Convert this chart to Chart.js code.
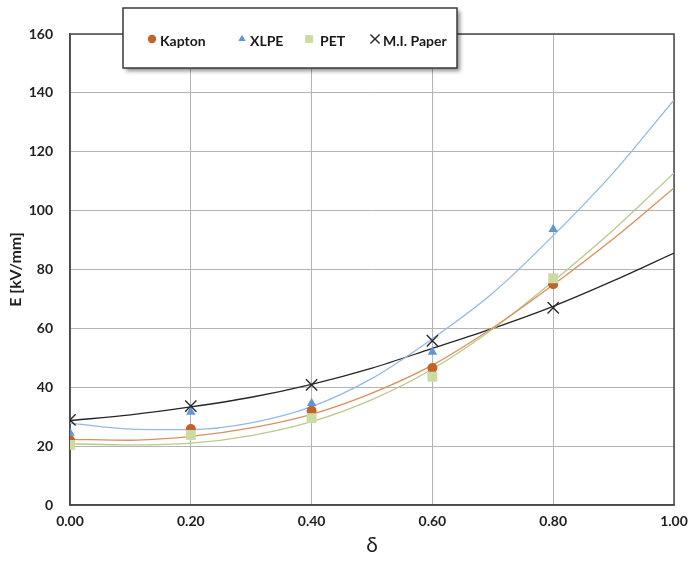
<!DOCTYPE html>
<html>
<head>
<meta charset="utf-8">
<script src="https://cdn.jsdelivr.net/npm/chart.js@4.4.1/dist/chart.umd.min.js"></script>
<style>
    html, body { margin: 0; padding: 0; background: #fff; }
    #wrap { position: relative; width: 689px; height: 564px; }
</style>
</head>
<body>
<div id="wrap"><canvas id="field-chart"></canvas></div>
<script>
// measured points (delta vs breakdown field)
const pointX = [0, 0.2, 0.4, 0.6, 0.8];
const kaptonPts = [22.0, 25.8, 32.0, 46.5, 75.0];
const xlpePts = [24.5, 31.6, 34.6, 52.0, 93.7];
const petPts = [20.4, 23.8, 29.5, 43.6, 77.0];
const paperPts = [28.9, 33.6, 40.8, 55.8, 67.0];

// trend lines, read every 0.1
const curveX = [0, 0.1, 0.2, 0.3, 0.4, 0.5, 0.6, 0.7, 0.8, 0.9, 1.0];
const kaptonFit = [22.3, 22.0, 23.3, 26.2, 30.8, 38.0, 47.5, 60.2, 74.8, 90.5, 107.7];
const xlpeFit = [27.8, 25.8, 25.6, 27.9, 33.4, 43.0, 56.5, 72.0, 91.5, 113.0, 137.6];
const petFit = [20.8, 20.4, 21.0, 23.6, 28.3, 35.8, 46.2, 59.8, 76.0, 93.5, 112.8];
const paperFit = [28.7, 30.6, 33.3, 36.6, 41.0, 46.5, 53.2, 60.0, 67.5, 76.2, 85.6];

const seriesNames = ["Kapton", "XLPE", "PET", "M.I. Paper"];

const toXY = (xs, ys) => xs.map((x, i) => ({ x: x, y: ys[i] }));

const FONT = "Lato, 'Liberation Sans', sans-serif";

function fitLine(data, color, width) {
    return {
        data: toXY(curveX, data),
        showLine: true,
        borderColor: color,
        borderWidth: width || 1.3,
        pointRadius: 0,
        cubicInterpolationMode: "monotone",
        order: 10,
        legendSkip: true,
    };
}

function markers(label, data, style, color, radius, order) {
    return {
        label: label,
        data: toXY(pointX, data),
        showLine: false,
        pointStyle: style,
        pointRadius: radius,
        backgroundColor: color,
        borderColor: color,
        borderWidth: style === "crossRot" ? 1.4 : 0,
        order: order,
    };
}

// dark box round the plot area
const framePlugin = {
    id: "plotFrame",
    beforeDatasetsDraw(chart) {
        const { ctx, chartArea: a } = chart;
        ctx.save();
        ctx.strokeStyle = "#4a4a4a";
        ctx.lineWidth = 1.5;
        ctx.strokeRect(a.left, a.top, a.right - a.left, a.bottom - a.top);
        ctx.restore();
    },
};

// boxed legend with shadow, floating over the top of the plot
const boxLegend = {
    id: "boxLegend",
    afterDraw(chart) {
        const { ctx } = chart;
        const box = { x: 123, y: 8, w: 334, h: 60 };
        const itemX = [152, 242, 309, 375];
        const cy = 41;
        ctx.save();
        ctx.shadowColor = "rgba(0,0,0,0.45)";
        ctx.shadowOffsetX = 3;
        ctx.shadowOffsetY = 3;
        ctx.shadowBlur = 4;
        ctx.fillStyle = "#fff";
        ctx.fillRect(box.x, box.y, box.w, box.h);
        ctx.shadowColor = "transparent";
        ctx.strokeStyle = "#3a3a3a";
        ctx.lineWidth = 1.5;
        ctx.strokeRect(box.x, box.y, box.w, box.h);

        const items = chart.data.datasets.filter((d) => !d.legendSkip);
        items.forEach((ds, i) => {
            const mx = itemX[i];
            ctx.fillStyle = ds.backgroundColor;
            ctx.strokeStyle = ds.borderColor;
            ctx.lineWidth = ds.borderWidth || 1;
            const r = ds.pointStyle === "crossRot" ? 6.5 : ds.pointStyle === "rect" ? 5.5 : 4.2;
            Chart.helpers.drawPoint(ctx, { pointStyle: ds.pointStyle, radius: r, borderWidth: ds.borderWidth, rotation: 0 }, mx, cy - 2);
            ctx.fillStyle = "#1a1a1a";
            ctx.font = "bold 14px " + FONT;
            ctx.textBaseline = "middle";
            ctx.textAlign = "left";
            ctx.fillText(ds.label, mx + (ds.pointStyle === "crossRot" ? 8 : ds.pointStyle === "rect" ? 11 : 8), cy);
        });
        ctx.restore();
    },
};

const chart = new Chart(document.getElementById("field-chart"), {
    type: "scatter",
    data: {
        datasets: [
            markers(seriesNames[0], kaptonPts, "circle", "#c2622c", 5, 4),
            markers(seriesNames[1], xlpePts, "triangle", "#5f97d4", 5.5, 3),
            markers(seriesNames[2], petPts, "rect", "#cadc9f", 7, 2),
            markers(seriesNames[3], paperPts, "crossRot", "#2a2a2a", 8, 1),
            fitLine(kaptonFit, "#dc8f5c"),
            fitLine(xlpeFit, "#96b9e2"),
            fitLine(petFit, "#b9c98e"),
            fitLine(paperFit, "#262626"),
        ],
    },
    options: {
        responsive: true,
        maintainAspectRatio: false,
        animation: false,
        layout: { padding: { top: 34, right: 15, left: 0, bottom: 0 } },
        plugins: {
            legend: { display: false },
            tooltip: { enabled: false },
        },
        scales: {
            x: {
                type: "linear",
                min: 0,
                max: 1,
                afterFit(s) {
                    s.height = 59;
                    s.paddingLeft = 0;
                    s.paddingRight = 0;
                },
                ticks: {
                    stepSize: 0.2,
                    padding: 8,
                    color: "#1f1f1f",
                    font: { family: FONT, size: 14, weight: "bold" },
                    callback: (v) => v.toFixed(2),
                },
                grid: { color: "#b4b4b4", lineWidth: 1, drawTicks: false },
                border: { color: "#4a4a4a", width: 1.5 },
                title: {
                    display: true,
                    text: "δ",
                    color: "#1f1f1f",
                    font: { family: FONT, size: 21 },
                    padding: { top: 0, bottom: 6 },
                },
            },
            y: {
                min: 0,
                max: 160,
                afterFit(s) {
                    s.width = 70;
                    s.paddingTop = 0;
                    s.paddingBottom = 0;
                },
                ticks: {
                    stepSize: 20,
                    padding: 17,
                    color: "#1f1f1f",
                    font: { family: FONT, size: 14, weight: "bold" },
                },
                grid: { color: "#b4b4b4", lineWidth: 1, drawTicks: false },
                border: { color: "#4a4a4a", width: 1.5 },
                title: {
                    display: true,
                    text: "E [kV/mm]",
                    color: "#1f1f1f",
                    font: { family: FONT, size: 16, weight: "bold" },
                    padding: { top: 6, bottom: 0 },
                },
            },
        },
    },
    plugins: [framePlugin, boxLegend],
});
</script>
</body>
</html>
